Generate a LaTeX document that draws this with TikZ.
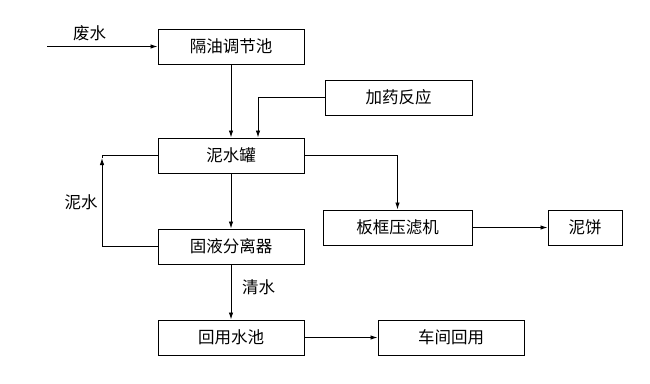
\documentclass[tikz,border=0pt]{standalone}
\usepackage{fontspec}
\setmainfont{Noto Sans CJK SC}
\usetikzlibrary{arrows.meta, positioning}

\begin{document}
\begin{tikzpicture}[
        x=1pt, y=-1pt,
        node distance=55pt and 73pt,
        block/.style={rectangle, draw, line width=1pt,
                      minimum width=146pt, minimum height=35pt,
                      inner sep=0pt, align=center,
                      font=\fontsize{16.5}{18}\selectfont},
        tag/.style={font=\fontsize{16.5}{18}\selectfont},
        arrow/.style={-{Latex[length=7pt, width=4.5pt]}, line width=0.9pt},
        line/.style={line width=0.9pt},
    ]
        \useasboundingbox (0,0) rectangle (650,383);

        \node[block] (oil) at (231,46.5) {隔油调节池};
        \node[block, below=73pt of oil] (mud) {泥水罐};
        \node[block, below=of mud] (sep) {固液分离器};
        \node[block, below=of sep] (pool) {回用水池};
        \node[block, minimum width=147pt] (dose) at (398.5,97.5) {加药反应};
        \node[block, minimum width=149pt] (press) at (397.5,227.5) {板框压滤机};
        \node[block, minimum width=74pt, right=75pt of press] (cake) {泥饼};
        \node[block, right=of pool] (reuse) {车间回用};

        \coordinate (in) at (47,46.5);
        \coordinate (loop) at (102,158);

        \draw[arrow] (in) -- (oil);
        \draw[arrow] (oil) -- (mud);
        \draw[arrow] (dose.west) -| ([xshift=27pt]mud.north);
        \draw[arrow] (mud) -- (sep);
        \draw[arrow] (sep) -- (pool);
        \draw[arrow] (mud.east) -| (press.north);
        \draw[arrow] (press) -- (cake);
        \draw[arrow] (pool) -- (reuse);
        \draw[arrow] (sep.west) -| (loop);
        \draw[line] (loop) |- (mud.west);

        \node[tag] (wastein) at (89.5,33.5) {废水};
        \node[tag] (mudwater) at (81,202) {泥水};
        \node[tag] (clear) at (258.5,287) {清水};

    \end{tikzpicture}
\end{document}
